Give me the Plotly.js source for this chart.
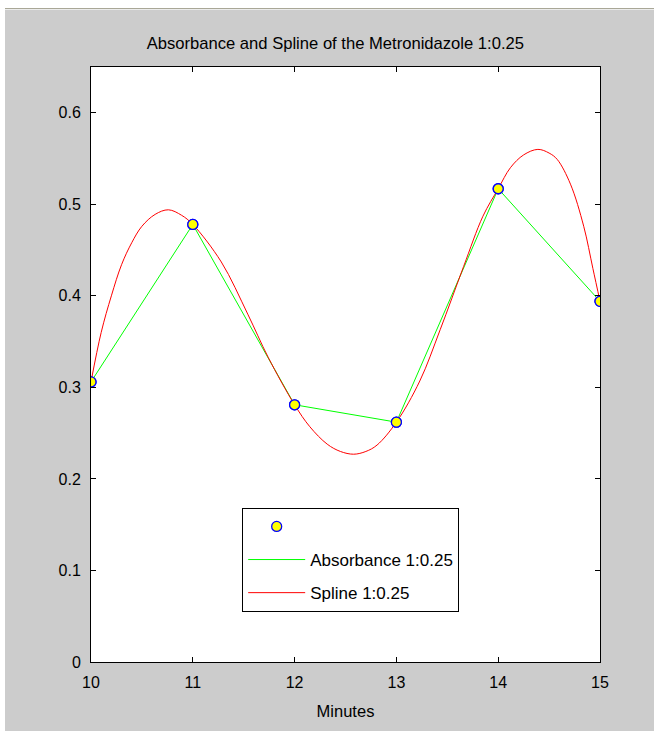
<!DOCTYPE html>
<html>
<head>
<meta charset="utf-8">
<script src="https://cdn.plot.ly/plotly-3.0.1.min.js"></script>
<style>
  html, body { margin: 0; padding: 0; background: #ffffff; width: 654px; height: 731px; overflow: hidden; }
  #line1 { position: absolute; left: 5px; top: 8px; width: 649px; height: 1px; background: #a9a797; }
  #line2 { position: absolute; left: 5px; top: 9px; width: 649px; height: 1px; background: #ececec; }
  #chart { position: absolute; left: 5px; top: 10px; width: 649px; height: 721px; background: #cccccc; }
</style>
</head>
<body>
<div id="line1"></div>
<div id="line2"></div>
<div id="chart"></div>
<script>
// Measured absorbance (minutes vs absorbance)
const minutes = [10, 11, 12, 13, 14, 15];
const absorbance = [0.306, 0.478, 0.281, 0.262, 0.517, 0.394];

// Spline curve values
const splineX = [10, 10.1, 10.2, 10.3, 10.4, 10.5, 10.63, 10.76, 10.89, 11,
                 11.28, 11.54, 11.74, 12,
                 12.15, 12.32, 12.45, 12.58, 12.7, 12.81, 13,
                 13.23, 13.43, 13.66, 13.85, 14,
                 14.12, 14.25, 14.39, 14.5, 14.58, 14.71, 14.84, 14.93, 15];
const splineY = [0.306, 0.360, 0.400, 0.434, 0.458, 0.476, 0.489, 0.494, 0.488, 0.478,
                 0.437, 0.380, 0.333, 0.281,
                 0.257, 0.238, 0.230, 0.227, 0.230, 0.237, 0.262,
                 0.307, 0.363, 0.432, 0.487, 0.517,
                 0.540, 0.554, 0.560, 0.556, 0.549, 0.522, 0.476, 0.430, 0.394];

const xTicks = [10, 11, 12, 13, 14, 15];
const yTicks = [0, 0.1, 0.2, 0.3, 0.4, 0.5, 0.6];
const yTickText = ['0', '0.1', '0.2', '0.3', '0.4', '0.5', '0.6'];

const FONT = '"Liberation Sans", Arial, sans-serif';

const markerStyle = { color: '#ffff00', size: 10, line: { color: '#0000ff', width: 1.3 } };

const traces = [
  {
    x: minutes, y: absorbance, type: 'scatter', mode: 'markers', name: ' ',
    legendgroup: 'a', marker: markerStyle
  },
  {
    x: minutes, y: absorbance, type: 'scatter', mode: 'lines', name: 'Absorbance 1:0.25',
    legendgroup: 'b', line: { color: '#00ff00', width: 1 }
  },
  {
    x: splineX, y: splineY, type: 'scatter', mode: 'lines', name: 'Spline 1:0.25',
    legendgroup: 'c', line: { color: '#ff0000', width: 1, shape: 'spline', smoothing: 1 }
  },
  {
    x: minutes, y: absorbance, type: 'scatter', mode: 'markers', showlegend: false,
    hoverinfo: 'skip', marker: markerStyle
  }
];

const layout = {
  width: 649, height: 721,
  paper_bgcolor: '#cccccc',
  plot_bgcolor: '#ffffff',
  margin: { l: 86, r: 54, t: 57, b: 69, pad: 0 },
  font: { family: FONT, size: 16, color: '#000000' },
  title: {
    text: 'Absorbance and Spline of the Metronidazole 1:0.25',
    font: { family: FONT, size: 16.6, color: '#000000' },
    x: 0.509, xanchor: 'center', xref: 'container',
    y: 0.954, yanchor: 'middle', yref: 'container'
  },
  xaxis: {
    range: [10, 15],
    tickvals: xTicks,
    ticks: 'inside', ticklen: 5, tickcolor: '#000000', tickwidth: 1,
    showline: true, linecolor: '#000000', linewidth: 1, mirror: 'ticks',
    showgrid: false, zeroline: false,
    ticklabelstandoff: 6,
    tickfont: { family: FONT, size: 16 },
    title: { text: 'Minutes', font: { family: FONT, size: 16.5 }, standoff: 15 }
  },
  yaxis: {
    range: [0, 0.65],
    tickvals: yTicks, ticktext: yTickText,
    ticks: 'inside', ticklen: 5, tickcolor: '#000000', tickwidth: 1,
    showline: true, linecolor: '#000000', linewidth: 1, mirror: 'ticks',
    showgrid: false, zeroline: false,
    ticklabelstandoff: 6,
    tickfont: { family: FONT, size: 16 }
  },
  showlegend: true,
  legend: {
    x: 0.297, y: 0.259, xanchor: 'left', yanchor: 'top',
    bgcolor: '#ffffff', bordercolor: '#000000', borderwidth: 1,
    font: { family: FONT, size: 17 },
    traceorder: 'grouped', tracegroupgap: 8,
    itemwidth: 57
  }
};

Plotly.newPlot('chart', traces, layout, { displayModeBar: false, staticPlot: true });
</script>
</body>
</html>
